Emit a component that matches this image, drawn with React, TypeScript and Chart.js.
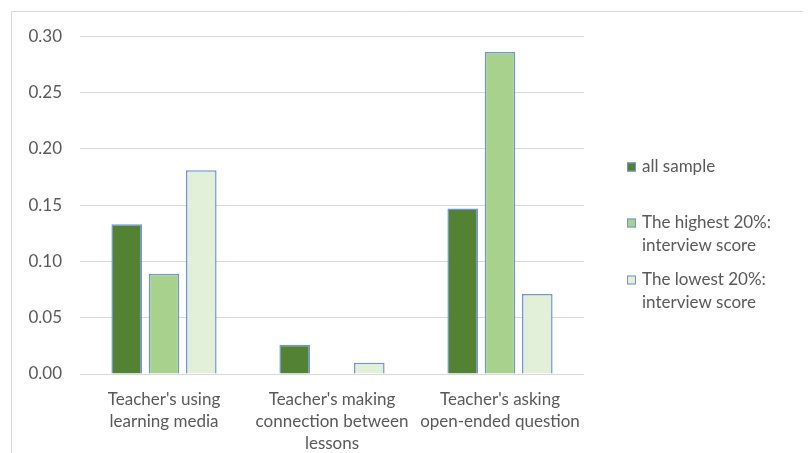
import React, { useEffect, useRef } from "react";
import { Chart, registerables } from "chart.js";

Chart.register(...registerables);

// Categories (x axis), each split into its display lines
const categories: string[][] = [
  ["Teacher's using", "learning media"],
  ["Teacher's making", "connection between", "lessons"],
  ["Teacher's asking", "open-ended question"],
];

// Series values
const allSample = [0.133, 0.026, 0.147];
const highest20 = [0.089, 0, 0.286];
const lowest20 = [0.181, 0.01, 0.071];

// Legend labels, split into their display lines
const seriesLabels: string[][] = [
  ["all sample"],
  ["The highest 20%:", "interview score"],
  ["The lowest 20%:", "interview score"],
];

// Y axis range / ticks
const yMin = 0;
const yMax = 0.3;
const yStep = 0.05;

const seriesFills = ["#548235", "#a9d18e", "#e2f0d9"];
const barBorder = "#7393d2";
const textColor = "#595959";
const fontFamily = "Lato, 'Open Sans', sans-serif";
const fontSize = 17;

const canvasW = 795;
const canvasH = 445;

// Outer frame lines (top and left edges)
const framePlugin = {
  id: "frame",
  beforeDraw(chart: any) {
    const { ctx, width, height } = chart;
    ctx.save();
    ctx.strokeStyle = "#d9d9d9";
    ctx.lineWidth = 1;
    ctx.beginPath();
    ctx.moveTo(3.5, height);
    ctx.lineTo(3.5, 3.5);
    ctx.lineTo(width, 3.5);
    ctx.stroke();
    ctx.restore();
  },
};

// Legend on the right with wrapped labels
const sideLegendPlugin = {
  id: "sideLegend",
  afterDraw(chart: any) {
    const { ctx } = chart;
    const rowsY = [159, 215, 272];
    const boxX = 619;
    const textX = 634;
    const box = 9;
    const lineH = 23;
    ctx.save();
    ctx.font = `${fontSize}px ${fontFamily}`;
    ctx.textBaseline = "middle";
    ctx.textAlign = "left";
    chart.data.datasets.forEach((ds: any, i: number) => {
      const y = rowsY[i];
      ctx.fillStyle = ds.backgroundColor;
      ctx.fillRect(boxX, y - box / 2, box, box);
      ctx.strokeStyle = ds.borderColor;
      ctx.lineWidth = 1;
      ctx.strokeRect(boxX + 0.5, y - box / 2 + 0.5, box - 1, box - 1);
      ctx.fillStyle = textColor;
      seriesLabels[i].forEach((line, j) => {
        ctx.fillText(line, textX, y + j * lineH);
      });
    });
    ctx.restore();
  },
};

export default function App() {
  const canvasRef = useRef<HTMLCanvasElement | null>(null);

  useEffect(() => {
    if (!canvasRef.current) return;
    const series = [allSample, highest20, lowest20];
    const chart = new Chart(canvasRef.current, {
      type: "bar",
      data: {
        labels: categories,
        datasets: series.map((values, i) => ({
          label: seriesLabels[i].join(" "),
          data: values,
          backgroundColor: seriesFills[i],
          borderColor: barBorder,
          borderWidth: 1.5,
          borderSkipped: "start",
          categoryPercentage: 0.666,
          barPercentage: 0.82,
        })),
      },
      options: {
        responsive: false,
        animation: false,
        devicePixelRatio: 1,
        layout: { padding: { top: 26, right: 219, bottom: 0, left: 0 } },
        plugins: {
          legend: { display: false },
          tooltip: { enabled: false },
        },
        scales: {
          x: {
            grid: { display: false },
            border: { display: false },
            ticks: {
              color: textColor,
              font: { family: fontFamily, size: fontSize, lineHeight: 22 / fontSize },
              padding: 7,
              maxRotation: 0,
              autoSkip: false,
            },
            afterFit(scale: any) {
              scale.height = canvasH - 366;
            },
          },
          y: {
            min: yMin,
            max: yMax,
            grid: { color: "#d9d9d9", lineWidth: 1, drawTicks: false },
            border: { display: false },
            ticks: {
              stepSize: yStep,
              color: textColor,
              font: { family: fontFamily, size: fontSize },
              padding: 18,
              callback: (v: any) => Number(v).toFixed(2),
            },
            afterFit(scale: any) {
              scale.width = 72;
            },
          },
        },
      },
      plugins: [framePlugin, sideLegendPlugin],
    });
    return () => chart.destroy();
  }, []);

  return (
    <div style={{ padding: "8px 0 0 8px" }}>
      <style>{"body { margin: 0; }"}</style>
      <canvas ref={canvasRef} width={canvasW} height={canvasH} style={{ display: "block" }} />
    </div>
  );
}
